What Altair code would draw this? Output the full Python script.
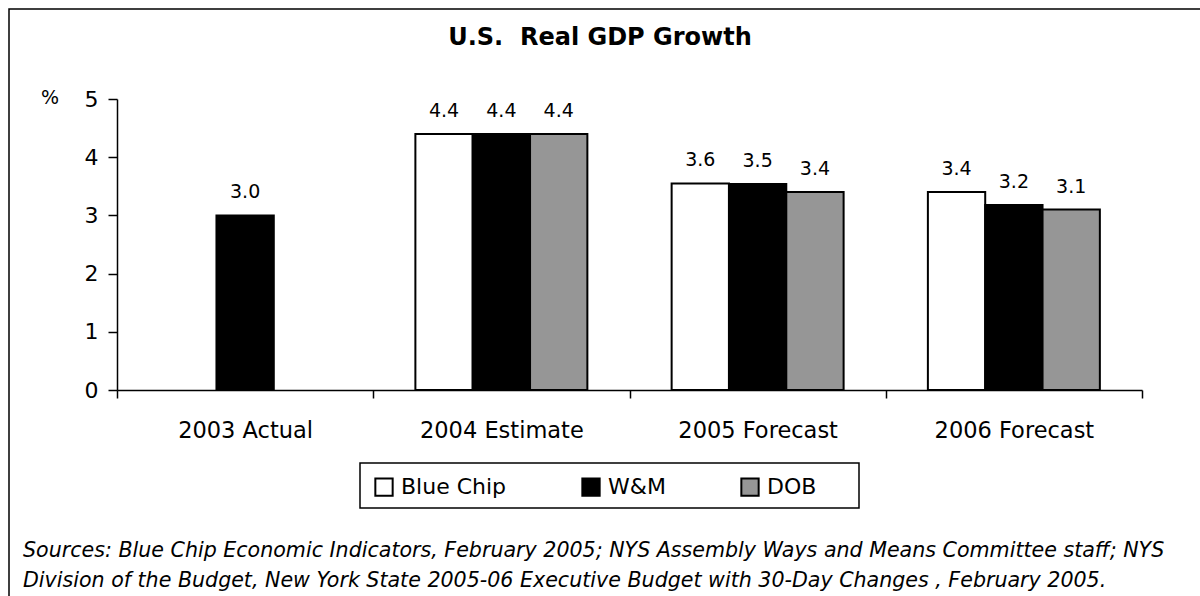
import altair as alt
import pandas as pd

categories = ["2003 Actual", "2004 Estimate", "2005 Forecast", "2006 Forecast"]
series = ["Blue Chip", "W&M", "DOB"]
blue_chip = [None, 4.4, 3.55, 3.4]
wm = [3.0, 4.4, 3.54, 3.18]
dob = [None, 4.4, 3.4, 3.1]
blue_chip_labels = [None, "4.4", "3.6", "3.4"]
wm_labels = ["3.0", "4.4", "3.5", "3.2"]
dob_labels = [None, "4.4", "3.4", "3.1"]
colors = ["white", "black", "#969696"]
y_ticks = [0, 1, 2, 3, 4, 5]

title_text = "U.S.\u00a0 Real GDP Growth"
unit_text = "%"
sources_lines = [
    "Sources: Blue Chip Economic Indicators, February 2005; NYS Assembly Ways and Means Committee staff; NYS",
    "Division of the Budget, New York State 2005-06 Executive Budget with 30-Day Changes , February 2005.",
]

rows = []
for s, vals, labs in zip(series, [blue_chip, wm, dob], [blue_chip_labels, wm_labels, dob_labels]):
    for c, v, l in zip(categories, vals, labs):
        if v is not None:
            rows.append({"category": c, "series": s, "value": v, "label": l})
df = pd.DataFrame(rows)

FONT = "DejaVu Sans"
PL, PT = 117, 99
W, H = 1025, 291

x_enc = alt.X(
    "category:N",
    sort=categories,
    scale=alt.Scale(paddingInner=0, paddingOuter=0),
    axis=alt.Axis(
        title=None, labelAngle=0, labelFontSize=22.5, labelColor="black",
        labelPadding=21, tickSize=8, tickBand="extent", tickColor="black",
        domainColor="black", domainWidth=1.5, tickWidth=1.5, grid=False,
    ),
)
xoff = alt.XOffset(
    "series:N", sort=series,
    scale=alt.Scale(domain=series, paddingInner=0, paddingOuter=0.735),
)
y_enc = alt.Y(
    "value:Q",
    scale=alt.Scale(domain=[0, 5], nice=False),
    axis=alt.Axis(
        title=None, values=y_ticks, format="d", labelFontSize=22, labelColor="black",
        labelPadding=10, tickSize=9, tickColor="black", domainColor="black",
        domainWidth=1.5, tickWidth=1.5, grid=False,
    ),
)

bars = alt.Chart(df).mark_bar(stroke="black", strokeWidth=2).encode(
    x=x_enc,
    xOffset=xoff,
    y=y_enc,
    color=alt.Color(
        "series:N",
        sort=series,
        scale=alt.Scale(domain=series, range=colors),
        legend=alt.Legend(
            title=None, orient="none", direction="horizontal",
            legendX=243, legendY=364, padding=13,
            symbolType="square", symbolSize=300, symbolStrokeColor="black",
            symbolStrokeWidth=2, labelFontSize=22, labelColor="black",
            labelOffset=6, columnPadding=71,
        ),
    ),
)

labels = alt.Chart(df).mark_text(
    fontSize=19, color="black", baseline="alphabetic", dy=-17
).encode(
    x=alt.X("category:N", sort=categories),
    xOffset=xoff,
    y="value:Q",
    text="label:N",
)

one = pd.DataFrame({"k": [0]})

border = alt.Chart(one).mark_rect(
    fillOpacity=0, stroke="black", strokeWidth=1.5
).encode(
    x=alt.value(9 - PL), x2=alt.value(1300), y=alt.value(9 - PT), y2=alt.value(700)
)

legend_box = alt.Chart(one).mark_rect(
    fill="white", stroke="black", strokeWidth=1.5
).encode(
    x=alt.value(243), x2=alt.value(742), y=alt.value(364), y2=alt.value(409)
)

title = alt.Chart(pd.DataFrame({"t": [title_text]})).mark_text(
    fontSize=24, fontWeight="bold", color="black", align="center", baseline="middle"
).encode(text="t:N", x=alt.value(600 - PL), y=alt.value(38 - PT))

unit = alt.Chart(pd.DataFrame({"t": [unit_text]})).mark_text(
    fontSize=19, color="black", align="center", baseline="middle"
).encode(text="t:N", x=alt.value(50 - PL), y=alt.value(98 - PT))

sources = alt.Chart(one).mark_text(
    text=sources_lines, fontSize=20.6, fontStyle="italic", color="black",
    align="left", baseline="alphabetic", lineHeight=30,
).encode(x=alt.value(23 - PL), y=alt.value(557 - PT))

chart = alt.layer(border, legend_box, bars, labels, title, unit, sources).properties(
    width=W, height=H,
    autosize=alt.AutoSizeParams(type="none"),
    padding={"left": PL, "top": PT, "right": 1200 - PL - W, "bottom": 596 - PT - H},
    background="white",
).configure(font=FONT).configure_view(stroke=None)

chart.save("out.html", embed_options={"renderer": "svg", "actions": False})
